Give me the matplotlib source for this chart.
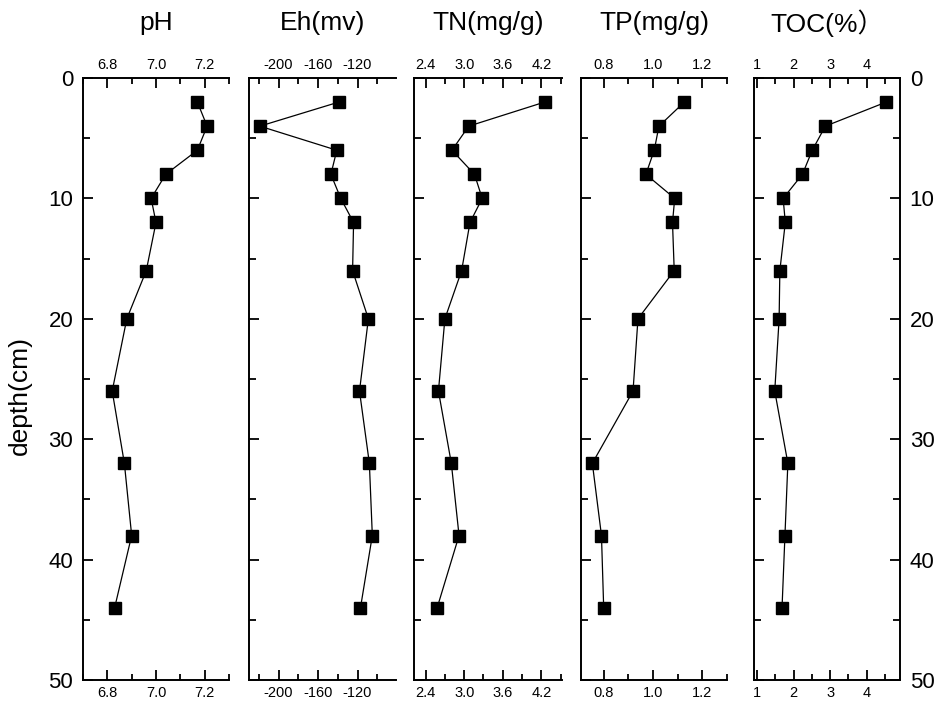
import matplotlib
matplotlib.use("Agg")
import matplotlib.pyplot as plt
from matplotlib.ticker import MultipleLocator

plt.rcParams['font.family'] = ['Liberation Sans', 'Noto Sans CJK SC', 'DejaVu Sans']

# sampling depths (cm)
depth = [2, 4, 6, 8, 10, 12, 16, 20, 26, 32, 38, 44]

# profiles
ph = [7.17, 7.21, 7.17, 7.04, 6.98, 7.00, 6.96, 6.88, 6.82, 6.87, 6.90, 6.83]
eh = [-139, -219, -141, -147, -137, -124, -125, -109, -118, -108, -105, -117]
tn = [4.25, 3.07, 2.81, 3.16, 3.28, 3.09, 2.96, 2.70, 2.60, 2.80, 2.92, 2.58]
tp = [1.127, 1.024, 1.005, 0.971, 1.088, 1.079, 1.086, 0.939, 0.919, 0.754, 0.791, 0.800]
toc = [4.54, 2.87, 2.51, 2.24, 1.71, 1.77, 1.62, 1.60, 1.48, 1.84, 1.76, 1.68]

titles = ["pH", "Eh(mv)", "TN(mg/g)", "TP(mg/g)", "TOC(%）"]
series = [ph, eh, tn, tp, toc]
xlims = [(6.70, 7.30), (-230, -81), (2.22, 4.52), (0.708, 1.30), (0.91, 4.92)]
majors = [0.2, 40, 0.6, 0.2, 1]
minors = [0.1, 20, 0.3, 0.1, 0.5]
fmts = ["%.1f", "%d", "%.1f", "%.1f", "%d"]

W, H = 937, 708
# panel left/right edges in pixels
edges = [(83, 229), (249, 396), (414, 562), (581, 727), (754, 900)]
top_px, bot_px = 78, 680

fig = plt.figure(figsize=(W / 100, H / 100), dpi=100)

for i in range(5):
    l, r = edges[i]
    ax = fig.add_axes([l / W, 1 - bot_px / H, (r - l) / W, (bot_px - top_px) / H])
    ax.plot(series[i], depth, "k-", lw=0.9, marker="s", ms=8, mfc="k", mec="k")
    ax.set_xlim(*xlims[i])
    ax.set_ylim(50, 0)

    ax.xaxis.set_major_locator(MultipleLocator(majors[i]))
    ax.xaxis.set_minor_locator(MultipleLocator(minors[i]))
    ax.xaxis.set_major_formatter(matplotlib.ticker.FormatStrFormatter(fmts[i]))
    ax.yaxis.set_major_locator(MultipleLocator(10))
    ax.yaxis.set_minor_locator(MultipleLocator(5))

    for s in ax.spines.values():
        s.set_linewidth(1.4)
    if i < 4:
        ax.spines['right'].set_visible(False)

    ax.tick_params(axis='x', which='both', direction='in', top=True, bottom=True,
                   labeltop=True, labelbottom=True, labelsize=10.5, pad=4, width=1.3)
    ax.tick_params(axis='x', which='major', length=7)
    ax.tick_params(axis='x', which='minor', length=4)
    ax.tick_params(axis='y', which='both', direction='in', left=True,
                   right=(i == 4), labelleft=(i == 0), labelright=(i == 4),
                   labelsize=16, pad=7, width=1.3)
    ax.tick_params(axis='y', which='major', length=7)
    ax.tick_params(axis='y', which='minor', length=5)

    fig.text((l + r) / 2 / W, 1 - 23 / H, titles[i], ha="center", va="center", fontsize=19)

fig.text(20 / W, 1 - 396 / H, "depth(cm)", rotation=90, ha="center", va="center", fontsize=19)

fig.savefig("out.png", dpi=100)
